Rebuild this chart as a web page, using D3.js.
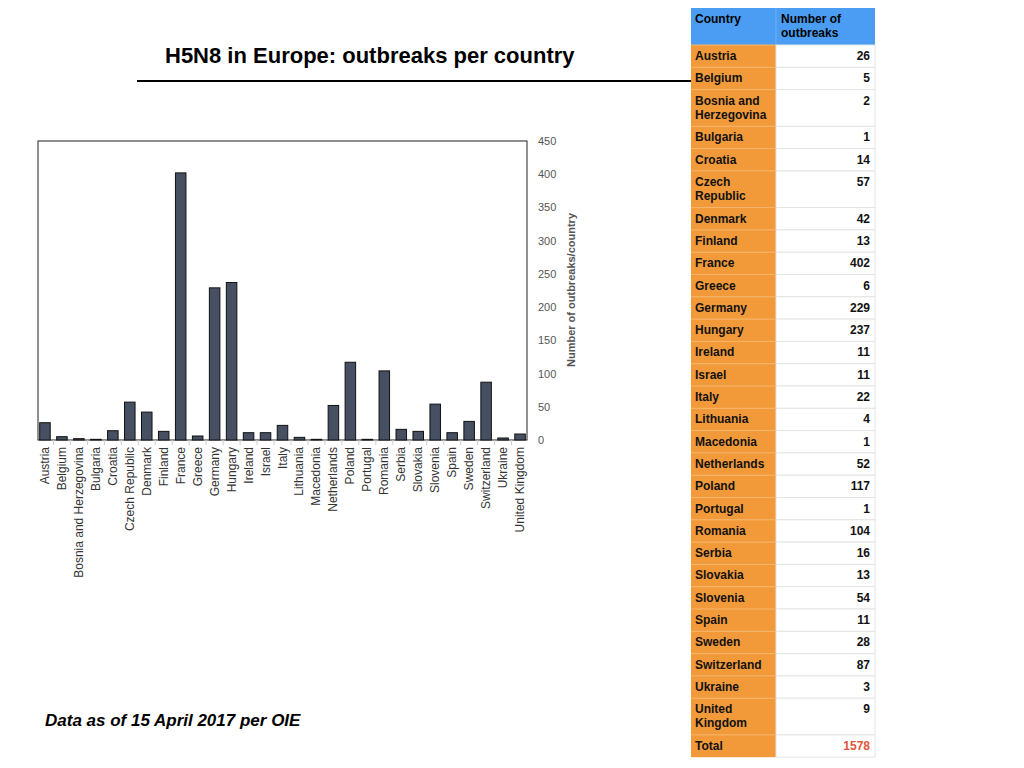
<!DOCTYPE html>
<html><head><meta charset="utf-8">
<script src="https://cdn.jsdelivr.net/npm/d3@7"></script>
<style>body{margin:0;background:#fff;font-family:"Liberation Sans",Arial,sans-serif;}</style>
</head><body>
<svg width="1024" height="768"></svg>
<script>
const countries = ['Austria','Belgium','Bosnia and Herzegovina','Bulgaria','Croatia','Czech Republic','Denmark','Finland','France','Greece','Germany','Hungary','Ireland','Israel','Italy','Lithuania','Macedonia','Netherlands','Poland','Portugal','Romania','Serbia','Slovakia','Slovenia','Spain','Sweden','Switzerland','Ukraine','United Kingdom'];
const outbreaks = [26,5,2,1,14,57,42,13,402,6,229,237,11,11,22,4,1,52,117,1,104,16,13,54,11,28,87,3,9];
const tableNames = ['Austria','Belgium','Bosnia and|Herzegovina','Bulgaria','Croatia','Czech|Republic','Denmark','Finland','France','Greece','Germany','Hungary','Ireland','Israel','Italy','Lithuania','Macedonia','Netherlands','Poland','Portugal','Romania','Serbia','Slovakia','Slovenia','Spain','Sweden','Switzerland','Ukraine','United|Kingdom'];
const yTicks = [0,50,100,150,200,250,300,350,400,450];

const svg = d3.select('svg');
const CH = {left: 38, right: 527, top: 141, bottom: 440};

const x = d3.scaleBand().domain(countries).range([CH.left, CH.right]).paddingInner(0.38).paddingOuter(0.1);
const y = d3.scaleLinear().domain([0, 450]).range([CH.bottom, CH.top]);

// title
svg.append('text').attr('x', 165).attr('y', 63).style('font-size', '22px').style('font-weight', 'bold').text('H5N8 in Europe: outbreaks per country');
svg.append('line').attr('x1', 137).attr('x2', 691).attr('y1', 81).attr('y2', 81).attr('stroke', '#000').attr('stroke-width', 2);

// frame
svg.append('rect').attr('x', CH.left).attr('y', CH.top).attr('width', CH.right - CH.left).attr('height', CH.bottom - CH.top)
    .attr('fill', 'none').attr('stroke', '#222').attr('stroke-width', 1);

// band separators at bottom
const step = x.step();
svg.append('g').selectAll('line').data(countries.slice(1)).enter().append('line')
    .attr('x1', d => x(d) - step * x.paddingInner() / 2).attr('x2', d => x(d) - step * x.paddingInner() / 2)
    .attr('y1', CH.bottom).attr('y2', CH.bottom + 5).attr('stroke', '#ccc');

svg.append('g').selectAll('rect').data(countries).enter().append('rect')
    .attr('x', d => x(d)).attr('width', x.bandwidth())
    .attr('y', (d, i) => y(outbreaks[i])).attr('height', (d, i) => CH.bottom - y(outbreaks[i]))
    .attr('fill', '#465062').attr('stroke', '#111').attr('stroke-width', 1);

// x labels
svg.append('g').selectAll('text').data(countries).enter().append('text')
    .attr('transform', d => `translate(${x(d) + x.bandwidth() / 2 + 4}, 447) rotate(-90)`)
    .attr('text-anchor', 'end').style('font-size', '12px').attr('fill', '#333').text(d => d);

// y axis on right
const yAxis = svg.append('g').attr('transform', `translate(${CH.right},0)`)
    .call(d3.axisRight(y).tickValues(yTicks).tickSize(0).tickPadding(11));
yAxis.select('.domain').remove();
yAxis.selectAll('text').style('font-size', '11px').attr('fill', '#555').style('font-family', '"Liberation Sans",Arial,sans-serif');
svg.append('text').attr('transform', 'translate(575,290) rotate(-90)').attr('text-anchor', 'middle')
    .style('font-size', '11px').style('font-weight', 'bold').attr('fill', '#555').text('Number of outbreaks/country');

// footnote
svg.append('text').attr('x', 45).attr('y', 726).style('font-size', '17px').style('font-weight', 'bold').style('font-style', 'italic').text('Data as of 15 April 2017 per OIE');

// table
const T = {x0: 691, x1: 776, x2: 875, top: 8, head: 37, h: 22.3, d: 36.7};
const rows = tableNames.map((n, i) => ({name: n, value: outbreaks[i]}));
rows.push({name: 'Total', value: d3.sum(outbreaks), total: true});
let yy = T.top;
const tbl = svg.append('g').style('font-size', '12px').style('font-weight', 'bold');
tbl.append('rect').attr('x', T.x0).attr('y', yy).attr('width', T.x2 - T.x0).attr('height', T.head).attr('fill', '#4a9df2');
tbl.append('line').attr('x1', T.x1).attr('x2', T.x1).attr('y1', yy).attr('y2', yy + T.head).attr('stroke', '#6fb2f5');
tbl.append('text').attr('x', T.x0 + 4).attr('y', yy + 15).text('Country');
tbl.append('text').attr('x', T.x1 + 5).attr('y', yy + 15).text('Number of');
tbl.append('text').attr('x', T.x1 + 5).attr('y', yy + 29).text('outbreaks');
yy += T.head;
rows.forEach(r => {
    const lines = r.name.split('|');
    const hh = lines.length > 1 ? T.d : T.h;
    tbl.append('rect').attr('x', T.x0).attr('y', yy).attr('width', T.x1 - T.x0).attr('height', hh).attr('fill', '#f29a3a');
    tbl.append('rect').attr('x', T.x1).attr('y', yy).attr('width', T.x2 - T.x1).attr('height', hh).attr('fill', '#fff')
        .attr('stroke', '#e4e4e4').attr('stroke-width', 1);
    tbl.append('line').attr('x1', T.x0).attr('x2', T.x1).attr('y1', yy).attr('y2', yy).attr('stroke', '#f7b46a');
    lines.forEach((l, k) => tbl.append('text').attr('x', T.x0 + 4).attr('y', yy + 15 + k * 14).attr('fill', '#111').text(l));
    tbl.append('text').attr('x', T.x2 - 5).attr('y', yy + 15).attr('text-anchor', 'end')
        .attr('fill', r.total ? '#e2553a' : '#111').text(r.value);
    yy += hh;
});
</script>
</body></html>
